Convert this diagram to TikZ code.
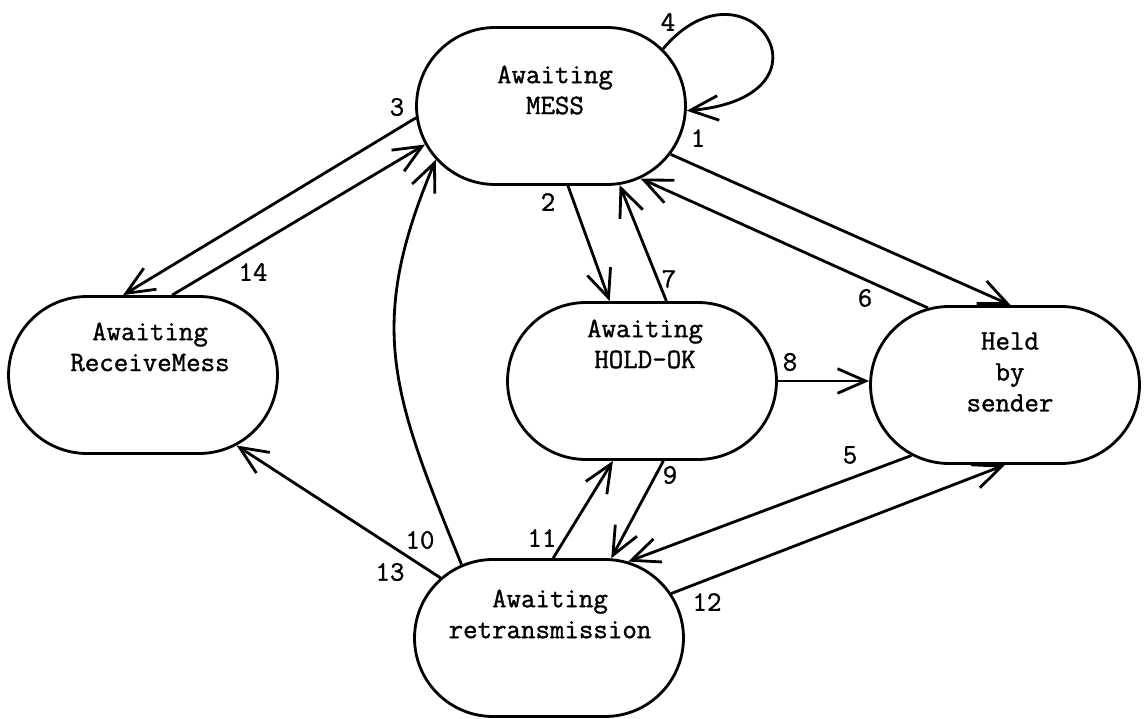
\documentclass[tikz,border=0pt]{standalone}
\usepackage{fontspec}
\newfontfamily\schreib{Latin Modern Mono}[FakeBold=1.2]
\usetikzlibrary{shapes.misc,arrows.meta}
\begin{document}
\begin{tikzpicture}[x=0.02cm,y=-0.02cm,
    zustand/.style={draw,rounded rectangle,line width=1.6pt,minimum width=5.38cm,minimum height=3.14cm,inner sep=0pt},
    txt/.style={font=\fontsize{16}{17.6}\selectfont\schreib,align=center,inner sep=0pt},
    nr/.style={font=\fontsize{16}{17.6}\selectfont\schreib,inner sep=0pt},
    pf/.style={line width=1.6pt,-{Straight Barb[length=16pt,width=14pt]}}]
    \useasboundingbox (0,0) rectangle (1144,719);

    % Zustaende
    \node[zustand] (mess) at (551,106) {};
    \node[zustand] (recv) at (143,375) {};
    \node[zustand] (hold) at (642,381) {};
    \node[zustand] (held) at (1005,385) {};
    \node[zustand] (retr) at (549,638) {};

    \node[txt] (messT) at (555,90) {Awaiting\\MESS};
    \node[txt] (recvT) at (150,347) {Awaiting\\ReceiveMess};
    \node[txt] (holdT) at (645,344) {Awaiting\\HOLD-OK};
    \node[txt] (heldT) at (1010,372) {Held\\by\\sender};
    \node[txt] (retrT) at (550,614) {Awaiting\\retransmission};

    % Uebergaenge
    \draw[pf] (mess.-22) -- (held.86);
    \draw[pf] (mess.-78) -- (hold.112);
    \draw[pf] (mess.185) -- (recv.104);
    \draw[pf] (mess.27) .. controls +(84,-100) and +(160,-14) .. (mess.-2);
    \draw[pf] (held.217) -- (retr.44);
    \draw[pf] (held.135) -- (mess.-39);
    \draw[pf] (hold.73) -- (mess.-49);
    \draw[pf] (hold.east) -- (hold.east -| held.west);
    \draw[pf] (hold.-75) -- (retr.52);
    \draw[pf] (retr.140) to[out=112,in=-113,looseness=1.15] (mess.205);
    \draw[pf] (retr.87) -- (hold.-110);
    \draw[pf] (retr.20) -- (held.-90);
    \draw[pf] (retr.151) -- (recv.-37);
    \draw[pf] (recv.70) -- (mess.197);

    % Nummern
    \node[nr] (n1) at (698,138) {1};
    \node[nr] (n2) at (548,202) {2};
    \node[nr] (n3) at (397,107) {3};
    \node[nr] (n4) at (668,22) {4};
    \node[nr] (n5) at (850,455) {5};
    \node[nr] (n6) at (865,298) {6};
    \node[nr] (n7) at (669,279) {7};
    \node[nr] (n8) at (790,362) {8};
    \node[nr] (n9) at (670,475) {9};
    \node[nr] (n10) at (420,540) {10};
    \node[nr] (n11) at (542,538) {11};
    \node[nr] (n12) at (707,602) {12};
    \node[nr] (n13) at (390,572) {13};
    \node[nr] (n14) at (253,272) {14};
\end{tikzpicture}
\end{document}
